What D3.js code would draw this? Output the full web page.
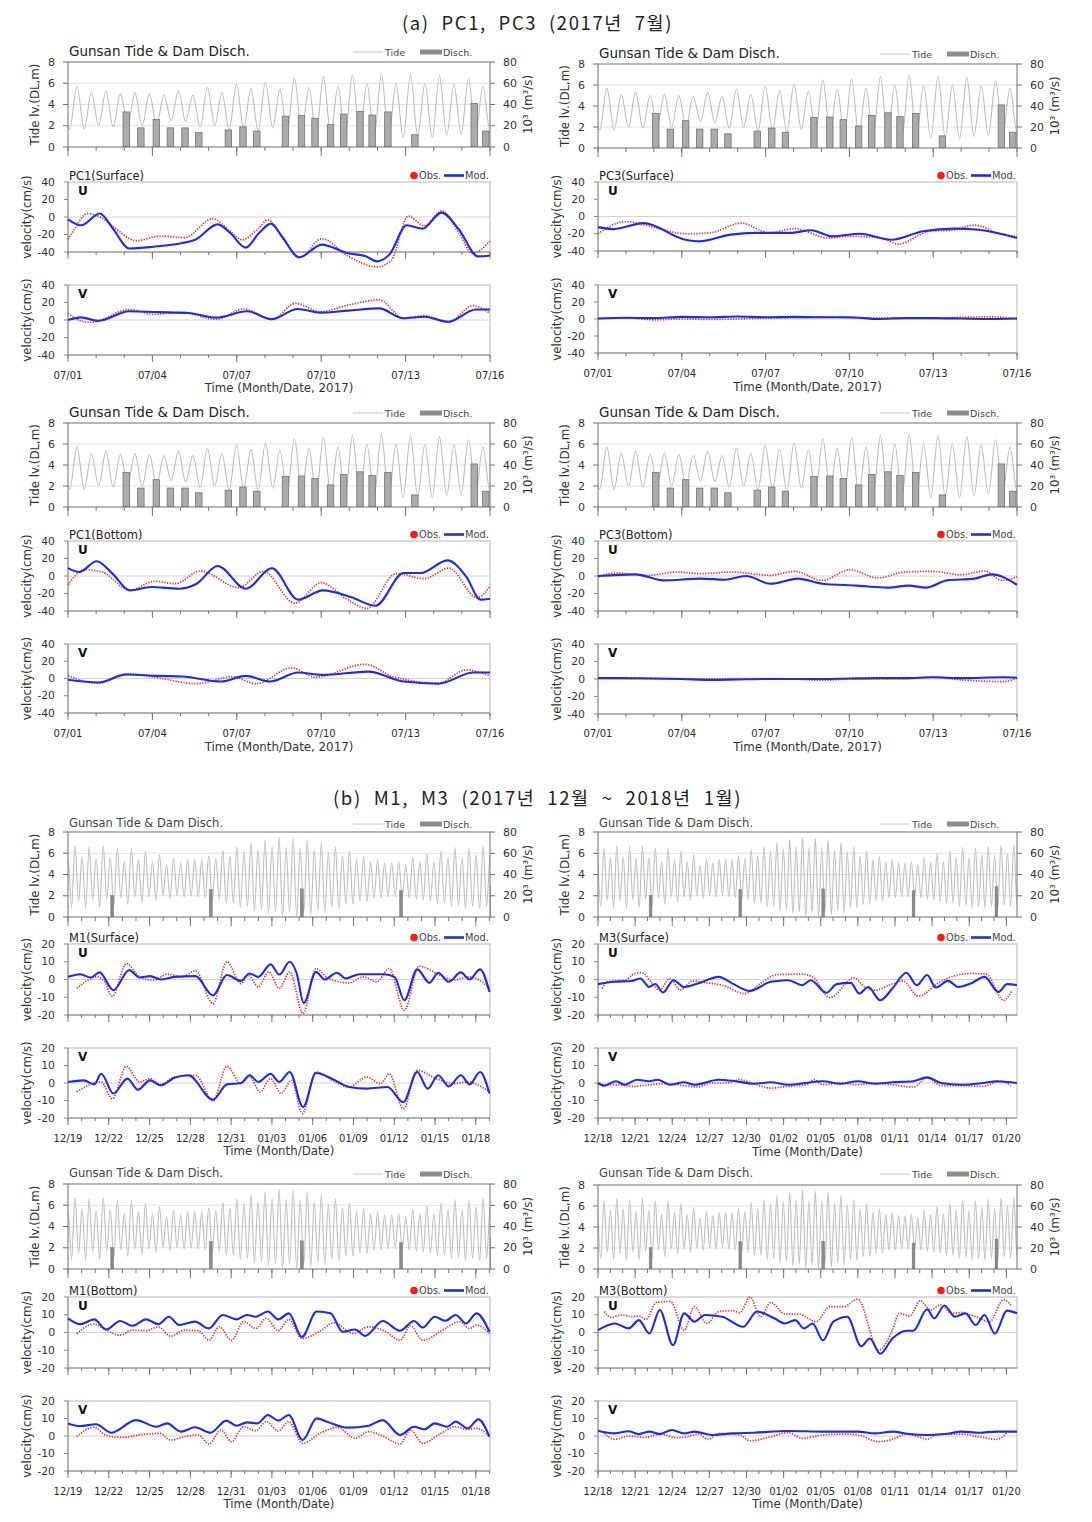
<!DOCTYPE html>
<html><head><meta charset="utf-8">
<script src="https://cdn.jsdelivr.net/npm/d3@7"></script>
<style>body{margin:0;background:#fff}svg{display:block}</style>
</head><body><svg id="c" width="1092" height="1522"></svg>
<script>
// ================= DATA =================
// Gunsan tide: alternating high / low water levels (m, DL)
const tideFirstHighA = "2017-06-30T19:15", tidePeriodA = 12.37;
const tideHighA = [5.5,5.7,5.1,5.3,5.0,5.1,5.0,4.9,5.3,4.9,5.6,5.1,5.9,5.5,6.1,5.4,6.5,5.6,6.6,5.7,6.8,6.0,6.9,6.0,6.8,6.0,6.7,5.9,6.4,5.7,5.5];
const tideLowA  = [1.7,1.7,2.0,1.9,2.1,2.0,2.1,2.5,2.4,1.9,2.0,1.6,1.7,1.5,1.8,1.4,1.5,1.2,1.2,1.0,1.0,1.0,0.9,0.9,1.0,0.9,1.1,1.2,1.3,1.4,1.5];
const tideFirstHighB = "2017-12-17T23:14", tidePeriodB = 12.42;
const tideHighB = [5.7,6.5,5.6,6.7,5.7,6.6,5.5,6.7,5.6,6.5,5.2,6.5,5.4,6.2,5.2,5.85,4.9,5.5,5.1,5.4,5.4,5.4,5.75,5.5,6.3,5.75,6.6,6.2,7.0,6.4,7.3,6.6,7.5,6.5,7.4,6.5,7.3,6.3,7.0,6.1,6.6,5.75,6.2,5.4,5.7,5.2,5.4,5.1,5.1,5.2,4.9,5.6,5.2,5.95,5.2,6.2,5.6,6.55,5.6,6.5,5.85,6.65,5.8,6.8,6.0,6.8,6.0];
const tideLowB  = [1.0,1.6,0.9,1.5,0.85,1.6,0.9,1.7,1.0,1.8,1.2,1.9,1.4,1.9,1.6,2.0,1.8,2.0,1.9,2.0,1.9,1.8,1.6,1.6,1.3,1.3,0.9,1.0,0.6,0.7,0.3,0.5,0.1,0.4,0.05,0.4,0.2,0.6,0.4,0.9,0.8,1.2,1.2,1.5,1.5,1.8,1.8,1.9,1.9,1.9,1.8,1.7,1.6,1.5,1.3,1.3,1.0,1.1,0.8,1.0,0.8,1.0,0.9,1.1,1.0,1.2,1.1];
// Dam discharge (10^3 m3/s); days after reference date
const dischRefA = "2017-07-01T00:00";
const dischDayA = [2.07,2.59,3.14,3.64,4.16,4.65,5.70,6.22,6.71,7.73,8.30,8.78,9.33,9.80,10.38,10.81,11.37,12.33,14.44,14.85];
const dischValA = [33,18,26,18,18,13.5,16,19,15,29,29.5,27,21,31,33.5,30,33,11.5,41,15];
const dischRefB = "2017-12-18T00:00";
const dischDayB = [4.25,11.5,18.2,25.5,32.2];
const dischValB = [20.5,26,26.5,24.7,28.5];
// Tick labels
const tickLabelsA  = ["07/01","07/04","07/07","07/10","07/13","07/16"];
const tickLabelsM1 = ["12/19","12/22","12/25","12/28","12/31","01/03","01/06","01/09","01/12","01/15","01/18"];
const tickLabelsM3 = ["12/18","12/21","12/24","12/27","12/30","01/02","01/05","01/08","01/11","01/14","01/17","01/20"];
const velTicksA = [-40,-20,0,20,40], velTicksB = [-20,-10,0,10,20];
const tideTicks = [0,2,4,6,8], dischTicks = [0,20,40,60,80];
// Velocity series: [days after panel start, cm/s]
const pc1sUobs = [[0,-25.5],[0.15,-18],[0.7,4],[1.2,-1],[1.57,-10],[2.43,-27],[3.29,-21.7],[4.15,-23.6],[5.14,-1.9],[5.76,-16],[6.19,-26],[6.74,-14],[7.11,-3.4],[7.73,-29],[8.22,-46.5],[9.02,-24.8],[9.95,-44.6],[10.99,-57],[11.49,-49.5],[12.1,1],[12.66,-10],[13.28,7],[13.89,-18],[14.38,-41.5],[15,-27.5]];
const pc1sUmod = [[0,-2.7],[0.46,-9.5],[1.13,4],[1.57,-12],[2.18,-36],[3.04,-34],[4.03,-30],[4.52,-26],[5.32,-8.4],[5.76,-18],[6.31,-35],[6.8,-18],[7.21,-7.6],[7.6,-22],[8.22,-46],[9.02,-31.6],[9.95,-41.5],[10.56,-44.6],[10.99,-50.7],[11.43,-42.7],[12.04,-9.5],[12.6,-13.3],[13.28,5],[13.89,-14],[14.57,-45],[15,-44]];
const pc1sVobs = [[0,7.6],[0.46,-1],[0.83,-2.7],[2.18,12],[3.04,6.5],[4.03,8.8],[5.26,0.8],[6.25,12.6],[7.24,0.8],[8.1,19],[8.96,9.5],[9.95,17],[11.06,23],[11.92,2],[12.66,5],[13.52,-2.7],[14.38,16.4],[15,7.6]];
const pc1sVmod = [[0,0],[0.46,3],[1.07,-1],[2.18,10],[3.17,9],[4.28,8],[5.26,2.7],[6.37,10],[7.24,1],[8.16,12.6],[8.96,8.4],[9.95,10.7],[11.06,13.3],[11.92,2],[12.66,3.8],[13.52,-2],[14.5,12],[15,12]];
const pc3sUobs = [[0,-20],[1.0,-5.8],[1.88,-11.5],[3.13,-20],[4.0,-19],[5.13,-7.7],[6.13,-19],[7.03,-14],[8.25,-25],[9.0,-23],[10.13,-25],[10.75,-32],[11.88,-17],[12.63,-16],[13.5,-10],[14.38,-20],[15,-23]];
const pc3sUmod = [[0,-12.3],[0.56,-14.6],[1.63,-7.7],[3.13,-27],[3.63,-28.8],[4.75,-21],[5.63,-19],[6.88,-19],[7.63,-16],[8.38,-23],[9.38,-20],[10.5,-27],[11.63,-17],[12.75,-14],[13.63,-15.4],[15,-25]];
const pc3sVobs = [[0,0.5],[1,1.5],[2,-1],[3,0],[4,-0.5],[5,0],[6,1],[7,1.5],[8,2.5],[9,1.5],[10,1],[11,1],[12,1],[13,2],[14,2.5],[15,0.5]];
const pc3sVmod = [[0,0.5],[1,1.5],[2,1],[3,2.5],[4,2],[5,3],[6,2],[7,2.5],[8,2],[9,2],[10,0],[11,1],[12,1],[13,0.5],[14,0],[15,0.5]];
const pc1bUobs = [[0,-10],[0.59,7.2],[1.21,4.6],[2.2,-16.4],[3.08,-6],[3.82,-8.8],[4.7,5.7],[6.07,-13.3],[6.94,5.3],[8.06,-31],[9.0,-7.6],[9.93,-26.7],[10.61,-37],[11.67,2.7],[12.67,-3],[13.54,9],[14.54,-24.8],[15,-11.8]];
const pc1bUmod = [[0,9],[0.4,4.6],[1.02,16.8],[1.58,2.7],[2.2,-16.4],[2.95,-12.6],[3.95,-14.5],[4.57,-8.8],[5.32,11.4],[6.32,-14.5],[7.25,8.8],[8.18,-27],[9.06,-16.4],[10.05,-24],[10.93,-34],[11.93,3.4],[12.55,3.4],[13.48,17.9],[14.16,-1],[14.66,-27],[15,-26]];
const pc1bVobs = [[0,3],[1.08,-5.4],[2.08,5.4],[3.2,0.8],[4.57,-6],[5.82,2],[6.69,-6],[7.94,12.3],[8.81,1.5],[10.55,16.5],[11.55,2.3],[13.17,-5.4],[14.16,10],[15,3]];
const pc1bVmod = [[0,-1.5],[1.08,-4.6],[2.08,4.6],[3.2,3],[4.07,2.3],[5.44,-3.5],[6.32,3],[7.19,-3.5],[8.18,6.9],[9.06,4.2],[10.68,8],[11.93,-3.5],[13.17,-6],[14.41,6.9],[15,6.9]];
const pc3bUobs = [[0,-1],[0.59,3.4],[1.83,0.8],[2.82,4.6],[3.69,2.7],[4.81,4.6],[6.17,0.8],[7.04,5.3],[8.03,-5],[9.02,7.2],[10.01,-2.3],[11.0,4.6],[11.99,5.3],[12.98,1.5],[13.85,5.7],[14.47,-5],[15,-1]];
const pc3bUmod = [[0,0],[1.34,1.9],[2.33,-5],[3.69,-3],[4.56,-4.2],[5.3,0],[6.17,-8.8],[7.16,-3],[8.03,-8.8],[9.27,-11],[10.38,-13.3],[11.12,-11],[11.74,-13.3],[12.49,-5],[13.48,-3],[14.1,1.9],[15,-10]];
const pc3bVobs = [[0,1],[1.5,0.5],[3,0.5],[4,0],[5,0.5],[6,0.5],[7,0],[8,-1.5],[9,0],[10,0.5],[11,0.5],[12,2],[13,-1],[14.5,-3],[15,1]];
const pc3bVmod = [[0,1],[1.5,0.8],[3,0],[4,-1],[5,-0.5],[6,0],[7,0],[8,0],[9,0.5],[10,1],[11,1],[12,2],[13,1],[14.5,2],[15,1.5]];
const m1sUobs = [[0.64,-5],[2.18,1.5],[2.7,-1.3],[3.26,-9.4],[4.29,9],[5.27,1.5],[6.29,-0.4],[7.32,3],[8.35,1.5],[9.38,4.9],[10.66,-13.6],[11.69,10],[12.72,-2.3],[13.23,2.5],[14.0,-4.2],[14.77,4.3],[15.54,-5],[16.31,4.3],[17.29,-19.2],[18.24,6.2],[19.14,0.6],[20.68,-1.9],[21.71,1.5],[22.73,-1.3],[23.63,6.2],[24.74,-17.4],[25.82,7.5],[27.36,2.5],[28.38,-0.4],[29.41,1.5],[30.44,-1.3],[31,-5]];
const m1sUmod = [[0,1.5],[0.9,3],[1.67,1.1],[2.31,4],[3.34,-6],[4.5,5.3],[5.27,1.1],[6.04,1.9],[6.81,0],[7.83,1.5],[9.38,1.9],[10.66,-9],[11.69,2.5],[12.72,-0.8],[13.36,3.4],[14.0,1.5],[14.9,8.5],[15.54,2.8],[16.31,10],[16.82,3.4],[17.34,-13.2],[18.24,4.3],[18.88,0],[19.78,3.8],[20.42,0.6],[21.45,3],[23.25,3],[24.02,1.5],[24.74,-11.7],[25.69,5.7],[26.59,-1.9],[27.23,3.8],[28.0,-1.3],[28.9,4],[29.54,0],[30.31,5.7],[31,-7]];
const m1sVobs = [[0.64,-5.1],[2.44,0.6],[3.26,-9],[4.29,9.5],[5.27,0.6],[6.04,2.5],[6.81,-0.8],[7.83,3.4],[9.38,4.4],[10.66,-10.3],[11.69,9.5],[12.72,-0.4],[13.36,3.4],[14.13,-5.1],[14.9,2.5],[15.67,-6],[16.44,1.5],[17.24,-17.5],[18.24,6.3],[19.65,0.6],[20.68,-2.3],[21.96,3.4],[22.99,-0.4],[23.63,5.3],[24.66,-14.7],[25.69,7.2],[27.1,2.5],[28.38,-0.4],[29.41,0.6],[30.44,-2.3],[31,-5.1]];
const m1sVmod = [[0,0.6],[1.16,1.5],[1.93,-0.8],[2.44,5.3],[3.34,-6],[4.37,2.5],[5.14,-3.8],[6.04,1.5],[6.81,-1.3],[7.83,3],[8.86,4.4],[10.66,-9.5],[11.69,-0.8],[12.72,0],[13.36,4.4],[14.0,0.6],[14.9,5.3],[15.54,0.6],[16.31,6.3],[17.29,-13.7],[18.24,5.7],[19.65,1.5],[20.68,-2.3],[21.96,-3.2],[23.5,-2.3],[24.66,-10.9],[25.69,6.3],[26.46,-3.2],[27.23,4.4],[28.0,-1.9],[28.9,4.4],[29.54,-0.8],[30.31,6.3],[31,-6]];
const m3sUobs = [[0.34,-5.1],[0.76,-1.3],[2.16,-0.4],[3.0,3.4],[3.57,3.8],[4.27,-1.3],[4.97,-6],[5.81,0.6],[6.66,-6],[7.64,-0.8],[8.9,-1.9],[10.03,-3.2],[11.85,-7.9],[13.12,-2.3],[14.52,2.8],[16.49,3],[17.33,1.5],[18.74,-10.2],[20.7,0.9],[21.54,-4.2],[22.39,-6],[23.51,-3.2],[24.63,-0.8],[25.9,-9.4],[27.44,-2.3],[28.71,1.9],[30.25,3.4],[31.38,3],[32.78,-11.7],[33.48,-6]];
const m3sUmod = [[0,-2.6],[1.32,-1.3],[2.72,-0.8],[3.43,0.6],[4.13,-4.2],[4.63,-2.5],[5.25,-7.3],[6.1,-0.4],[6.94,-4.2],[8.06,-2.3],[9.75,1.5],[10.87,-2.3],[12.28,-6.4],[13.96,-1.3],[15.37,-0.4],[16.49,-3.2],[17.19,-0.4],[18.46,-7.5],[19.3,-2.6],[20.42,-1.9],[21.12,-7.9],[21.83,-4.2],[22.81,-11.7],[23.79,-5.1],[24.92,3.8],[25.76,-3.2],[26.6,2.5],[27.3,-4.5],[28.29,-0.8],[29.13,-4.2],[30.11,-2.3],[31.24,1.5],[32.36,-7],[33.06,-2.6],[33.86,-3.2]];
const m3sVobs = [[0.34,-1.9],[1.32,-1],[3.0,-1.9],[4.13,-1],[5.53,-0.4],[6.94,-1.5],[8.06,-2.3],[9.18,0],[10.45,0],[11.43,1.9],[12.56,-0.4],[13.96,-2.9],[15.37,-1.9],[16.77,-1],[17.47,1.9],[18.17,-1],[19.58,0],[20.98,-1],[22.39,0],[23.79,-1],[25.48,-2.3],[26.6,2.9],[27.72,-1.5],[29.41,-1.5],[31.1,-1.9],[32.5,1],[33.34,-1.5]];
const m3sVmod = [[0,0],[0.48,-1.5],[1.46,1],[2.16,-1],[3.15,1.9],[4.13,1],[4.83,1.9],[5.81,-1],[6.94,0.4],[7.78,-1],[9.75,1.9],[11.15,1],[12.56,-0.4],[13.96,0.4],[15.37,-1],[16.77,0],[18.17,1],[19.58,-0.4],[20.98,1],[22.39,-0.4],[23.79,0.4],[25.48,1],[26.6,3.2],[27.72,0],[29.41,-1],[31.1,0],[32.22,1],[33.86,0]];
const m1bUobs = [[0.64,-0.6],[1.92,4.7],[2.81,1.3],[3.84,-1.5],[4.73,1.3],[5.75,1],[6.65,3.2],[7.54,-2.1],[8.57,1.3],[9.59,1],[10.36,-4.4],[11.13,3.2],[12.02,-4.4],[12.92,6.1],[13.81,2.3],[14.58,8],[15.47,1],[16.24,7.4],[17.21,-3.4],[18.54,0.8],[19.57,5.5],[20.97,-0.6],[22.12,3.2],[23.4,0.4],[24.42,-4.4],[25.19,3.8],[26.09,-4.4],[27.75,2.3],[28.77,6.1],[29.54,2.3],[30.05,4.2],[31,-0.6]];
const m1bUmod = [[0,8],[0.9,4.7],[1.92,7.4],[2.81,1.7],[3.84,6.5],[4.73,3.8],[5.75,7.4],[6.65,4.7],[7.42,8.9],[8.18,4.2],[9.34,6.1],[10.36,2.3],[11.38,9.9],[12.4,7.4],[13.17,9.9],[13.81,8.9],[14.7,11.8],[15.47,7.4],[16.24,10.8],[17.21,-2.5],[18.29,11.8],[19.31,10.8],[20.2,0.4],[21.1,1.7],[21.87,-1.9],[23.15,6.5],[24.42,1],[25.45,6.5],[26.09,2.8],[26.98,8.9],[27.75,6.6],[28.52,9.9],[29.28,5.1],[30.05,10.8],[31,0.4]];
const m1bVobs = [[0.64,-0.4],[1.92,5],[2.81,0.4],[3.96,-0.8],[5.75,1.1],[6.78,1.5],[7.54,-2.3],[8.57,-0.4],[9.59,0.6],[10.36,-4.6],[11.25,3.4],[12.02,-3.2],[12.92,5.3],[13.81,3],[14.58,8.2],[15.47,3],[16.24,8.2],[17.26,-4.2],[18.54,1.5],[19.82,5],[21.1,-1.3],[22.12,2.5],[23.15,0],[24.42,-4.6],[25.19,3.4],[26.09,-4.2],[27.24,0.6],[28.52,5.3],[29.28,3.8],[30.05,4.4],[31,-0.4]];
const m1bVmod = [[0,7.2],[0.9,5.7],[2.05,6.7],[3.2,1.9],[4.99,9.1],[6.52,5.3],[7.29,7.2],[8.31,2.5],[9.34,5],[10.49,1.9],[11.64,8.8],[12.4,5.9],[13.17,7.8],[13.94,7.2],[14.7,12],[15.47,8.8],[16.24,12],[17.26,-2.3],[18.29,10.1],[19.05,8.2],[20.59,4.8],[22.12,5.9],[23.15,9.1],[24.42,0.6],[25.45,5.3],[26.21,3.8],[26.98,7.2],[27.88,5.3],[28.52,8.2],[29.41,4.4],[30.18,9.5],[31,-0.4]];
const m3bUobs = [[0.51,11.8],[1.07,8.5],[1.91,9.9],[2.75,8.9],[3.31,9.3],[3.87,7.4],[4.71,16.9],[5.84,17.5],[6.96,1.3],[7.8,14.6],[8.78,5.1],[9.76,11.8],[10.89,12.3],[11.45,11.2],[12.29,19.9],[13.13,8.9],[13.97,16.9],[15.1,10.4],[16.22,10.4],[17.62,6.1],[18.74,14.6],[19.87,14.6],[20.99,18.8],[22.67,-10],[23.79,1.3],[24.35,10.8],[25.2,9.3],[26.04,18],[26.88,12.7],[27.72,15.6],[28.56,10.8],[29.4,11.2],[30.53,8.9],[31.65,6.1],[32.77,18.4],[33.47,14.6]];
const m3bUmod = [[0,1.3],[1.35,5.1],[2.47,2.3],[3.31,7],[4.15,-0.6],[4.99,12.7],[6.06,-7.2],[6.96,10.8],[7.8,6.1],[8.64,9.9],[10.04,8.9],[11.73,3.2],[12.85,11.8],[14.25,8],[15.1,5.1],[15.94,7],[16.64,2.3],[17.34,5.1],[18.18,-4.4],[19.02,6.1],[20.15,8.9],[21.27,-7.8],[21.97,-3.4],[22.81,-12],[23.79,-3.4],[24.92,1],[25.48,1],[26.6,13.1],[27.16,8],[28.0,15.2],[28.84,8.9],[29.69,10.8],[30.53,4.2],[31.23,9.9],[32.07,-0.6],[33.05,12.3],[33.86,10.8]];
const m3bVobs = [[0.51,1.5],[1.35,-1.9],[2.47,0],[3.87,-0.8],[4.99,1.1],[6.4,-1],[7.24,-0.4],[8.08,1.1],[8.92,-1.9],[9.76,1.5],[11.45,0.6],[12.29,-2.7],[13.97,-0.4],[15.38,1.9],[16.5,-1.3],[18.18,0.6],[19.87,1.1],[20.99,0.6],[22.67,-3.2],[23.79,-1.9],[24.92,1.1],[26.04,-0.8],[26.6,-1.9],[27.44,1.1],[29.4,1.1],[30.81,-0.4],[32.21,-1.9],[33.05,1.9]];
const m3bVmod = [[0,3],[1.35,1.5],[2.47,2.7],[3.31,1.1],[4.15,2.5],[4.99,1.1],[5.98,3.4],[6.96,1.5],[7.8,2.5],[9.2,0.6],[10.89,1.5],[12.57,1.9],[15.38,2.9],[18.18,2.5],[20.99,2.5],[22.39,1.5],[23.79,2.5],[25.2,1.1],[26.6,0.6],[28.0,1.1],[29.4,2.5],[30.81,1.9],[32.21,2.5],[33.86,2.5]];

// ================= LAYOUT / STYLE =================
const FONT = "'DejaVu Sans', Verdana, sans-serif";
const C = {grid:"#e3e3e3", frame:"#6e6e6e", velFrame:"#b5b5b5", zero:"#d3d3d3", tide:"#bdbdbd",
  bar:"#ababab", barStroke:"#707070", obs:"#ee2a2a", mod:"#1f2ce0", text:"#333"};
const DAY = 864e5, HOUR = 36e5;
const LX0 = 68, LX1 = 490, RX0 = 598, RX1 = 1017;

const groups = [
 {col:0,x0:LX0,x1:LX1,start:"2017-07-01T00:00",end:"2017-07-16T00:00",ticks:tickLabelsA,yr:"A",name:"PC1(Surface)",
  tideY:[62,147],uY:[182,252],vY:[285,355],titleY:51,ticksY:375,axisTitleY:388,u:[pc1sUobs,pc1sUmod],v:[pc1sVobs,pc1sVmod]},
 {col:1,x0:RX0,x1:RX1,start:"2017-07-01T00:00",end:"2017-07-16T00:00",ticks:tickLabelsA,yr:"A",name:"PC3(Surface)",
  tideY:[64,148],uY:[182,251],vY:[285,353],titleY:53,ticksY:373,axisTitleY:387,u:[pc3sUobs,pc3sUmod],v:[pc3sVobs,pc3sVmod]},
 {col:0,x0:LX0,x1:LX1,start:"2017-07-01T00:00",end:"2017-07-16T00:00",ticks:tickLabelsA,yr:"A",name:"PC1(Bottom)",
  tideY:[423,507],uY:[541,611],vY:[644,713],titleY:412,ticksY:733,axisTitleY:747,u:[pc1bUobs,pc1bUmod],v:[pc1bVobs,pc1bVmod]},
 {col:1,x0:RX0,x1:RX1,start:"2017-07-01T00:00",end:"2017-07-16T00:00",ticks:tickLabelsA,yr:"A",name:"PC3(Bottom)",
  tideY:[423,507],uY:[541,611],vY:[644,714],titleY:412,ticksY:733,axisTitleY:747,u:[pc3bUobs,pc3bUmod],v:[pc3bVobs,pc3bVmod]},
 {col:0,x0:LX0,x1:LX1,start:"2017-12-19T00:00",end:"2018-01-19T01:00",ticks:tickLabelsM1,yr:"B",name:"M1(Surface)",
  tideY:[832,917],uY:[944,1015],vY:[1048,1118],titleY:823,ticksY:1138,axisTitleY:1151,u:[m1sUobs,m1sUmod],v:[m1sVobs,m1sVmod]},
 {col:1,x0:RX0,x1:RX1,start:"2017-12-18T00:00",end:"2018-01-20T20:40",ticks:tickLabelsM3,yr:"B",name:"M3(Surface)",
  tideY:[832,917],uY:[944,1015],vY:[1048,1118],titleY:823,ticksY:1138,axisTitleY:1152,u:[m3sUobs,m3sUmod],v:[m3sVobs,m3sVmod]},
 {col:0,x0:LX0,x1:LX1,start:"2017-12-19T00:00",end:"2018-01-19T01:00",ticks:tickLabelsM1,yr:"B",name:"M1(Bottom)",
  tideY:[1184,1269],uY:[1297,1368],vY:[1401,1471],titleY:1173,ticksY:1491,axisTitleY:1504,u:[m1bUobs,m1bUmod],v:[m1bVobs,m1bVmod]},
 {col:1,x0:RX0,x1:RX1,start:"2017-12-18T00:00",end:"2018-01-20T20:40",ticks:tickLabelsM3,yr:"B",name:"M3(Bottom)",
  tideY:[1185,1269],uY:[1297,1368],vY:[1401,1471],titleY:1173,ticksY:1491,axisTitleY:1504,u:[m3bUobs,m3bUmod],v:[m3bVobs,m3bVmod]}
];

// ================= HELPERS =================
const svg = d3.select("#c").attr("font-family", FONT);
const defs = svg.append("defs");
let clipN = 0;
function clip(x,y,w,h){ const id="cl"+(clipN++); defs.append("clipPath").attr("id",id).append("rect").attr("x",x).attr("y",y).attr("width",w).attr("height",h); return "url(#"+id+")"; }
function txt(x,y,s,o={}){ return svg.append("text").attr("x",x).attr("y",y).attr("font-size",o.size||10)
  .attr("text-anchor",o.anchor||"start").attr("dominant-baseline","central").attr("fill",o.fill||C.text)
  .attr("font-weight",o.weight||"normal").attr("font-family",o.family||FONT).text(s); }
function vtxt(x,y,s,size){ return svg.append("text").attr("transform",`translate(${x},${y}) rotate(-90)`)
  .attr("text-anchor","middle").attr("dominant-baseline","central").attr("font-size",size).attr("fill",C.text).text(s); }
function hline(x1,x2,y,c,w){ svg.append("line").attr("x1",x1).attr("x2",x2).attr("y1",y).attr("y2",y).attr("stroke",c).attr("stroke-width",w||1); }
function vline(x,y1,y2,c,w){ svg.append("line").attr("x1",x).attr("x2",x).attr("y1",y1).attr("y2",y2).attr("stroke",c).attr("stroke-width",w||1); }
function parseLabel(s, yr){ const [m,d]=s.split("/").map(Number); const y = yr==="A" ? 2017 : (m===12?2017:2018); return new Date(y, m-1, d); }
function tidePts(highs, lows, first, per){ const t0=new Date(first).getTime(), p=[];
  highs.forEach((h,i)=>{ p.push([new Date(t0+i*per*HOUR),h]); if(i<lows.length) p.push([new Date(t0+(i+0.5)*per*HOUR),lows[i]]); }); return p; }
const tideData = { A: tidePts(tideHighA,tideLowA,tideFirstHighA,tidePeriodA), B: tidePts(tideHighB,tideLowB,tideFirstHighB,tidePeriodB) };
const dischData = {
  A: dischDayA.map((d,i)=>[new Date(new Date(dischRefA).getTime()+d*DAY), dischValA[i]]),
  B: dischDayB.map((d,i)=>[new Date(new Date(dischRefB).getTime()+d*DAY), dischValB[i]]) };

function xTicks(x, g, y, minorLen, majorLen, days, majors){
  days.forEach(d=>{ const xx=x(d); if(xx<g.x0-0.5||xx>g.x1+0.5) return; vline(xx,y,y+minorLen,"#777",1); });
  majors.forEach(d=>{ const xx=x(d); if(xx<g.x0-0.5||xx>g.x1+0.5) return; vline(xx,y,y+majorLen,"#777",1); });
}

// ================= DRAW =================
function drawGroup(g){
  const t0 = new Date(g.start), t1 = new Date(g.end);
  const x = d3.scaleTime().domain([t0,t1]).range([g.x0,g.x1]);
  const days = d3.timeDay.range(d3.timeDay.floor(t0), new Date(t1.getTime()+1));
  const majors = g.ticks.map(s=>parseLabel(s,g.yr));
  const big = g.yr==="A";

  // ---- Tide / discharge panel ----
  const [tt,tb] = g.tideY;
  const yT = d3.scaleLinear().domain([0,8]).range([tb,tt]);
  const yD = d3.scaleLinear().domain([0,80]).range([tb,tt]);
  [2,4,6].forEach(v=>hline(g.x0,g.x1,yT(v),C.grid,1));
  const line = d3.line().x(d=>x(d[0])).y(d=>yT(d[1])).curve(d3.curveMonotoneX);
  svg.append("path").datum(tideData[g.yr]).attr("d",line).attr("fill","none").attr("stroke",C.tide)
     .attr("stroke-width",1.1).attr("clip-path",clip(g.x0,tt,g.x1-g.x0,tb-tt));
  const cp = clip(g.x0,tt-2,g.x1-g.x0+1,tb-tt+2);
  svg.append("g").attr("clip-path",cp).selectAll("rect").data(dischData[g.yr]).join("rect")
     .attr("x",d=>x(new Date(d[0].getTime()-2.75*HOUR)))
     .attr("width",d=>x(new Date(d[0].getTime()+2.75*HOUR))-x(new Date(d[0].getTime()-2.75*HOUR)))
     .attr("y",d=>yD(d[1])).attr("height",d=>tb-yD(d[1]))
     .attr("fill",big?C.bar:"#8a8a8a").attr("stroke",big?C.barStroke:"#777").attr("stroke-width",big?0.8:0.4);
  svg.append("rect").attr("x",g.x0).attr("y",tt).attr("width",g.x1-g.x0).attr("height",tb-tt)
     .attr("fill","none").attr("stroke",C.frame).attr("stroke-width",1);
  tideTicks.forEach(v=>{ hline(g.x0-5,g.x0,yT(v),C.frame,1); txt(g.x0-13,yT(v),v,{size:11,anchor:"end"}); });
  dischTicks.forEach(v=>{ hline(g.x1,g.x1+5,yD(v),C.frame,1); txt(g.x1+13,yD(v),v,{size:11}); });
  xTicks(x,g,tb,4,9,days,majors);
  vtxt(g.x0-33,(tt+tb)/2,"Tide lv.(DL,m)",11.8);
  vtxt(g.x1+38,(tt+tb)/2,"10³ (m³/s)",11.8);
  txt(g.x0+1,g.titleY,"Gunsan Tide & Dam Disch.",{size:big?13.5:11.5,fill:big?"#222":"#444"});
  // legend
  const ly = g.titleY+1;
  hline(g.x1-137,g.x1-107,ly,"#c8c8c8",1);
  txt(g.x1-105,ly,"Tide",{size:9.5,fill:"#444"});
  svg.append("rect").attr("x",g.x1-70).attr("y",ly-2.5).attr("width",22).attr("height",5).attr("fill","#8c8c8c");
  txt(g.x1-47,ly,"Disch.",{size:9.5,fill:"#444"});

  // ---- Velocity panels ----
  const vmax = big?40:20, vt = big?velTicksA:velTicksB;
  [["U",g.uY,g.u],["V",g.vY,g.v]].forEach(([lab,[pt,pb],ser])=>{
    const y = d3.scaleLinear().domain([-vmax,vmax]).range([pb,pt]);
    svg.append("rect").attr("x",g.x0).attr("y",pt).attr("width",g.x1-g.x0).attr("height",pb-pt)
       .attr("fill","none").attr("stroke",C.velFrame).attr("stroke-width",1);
    hline(g.x0,g.x1,y(0),C.zero,1);
    hline(g.x0,g.x1,pb,"#8a8a8a",1);
    vline(g.x0,pt,pb,"#8a8a8a",1);
    vt.forEach(v=>{ hline(g.x0-4,g.x0,y(v),"#8a8a8a",1); txt(g.x0-13,y(v),v,{size:10.8,anchor:"end"}); });
    xTicks(x,g,pb,3,7,days,majors);
    vtxt(g.x0-41,(pt+pb)/2,"velocity(cm/s)",11.8);
    txt(g.x0+10,pt+9,lab,{size:12,weight:"bold",fill:"#111"});
    const ln = d3.line().x(d=>x(new Date(t0.getTime()+d[0]*DAY))).y(d=>y(d[1])).curve(d3.curveMonotoneX);
    svg.append("path").datum(ser[0]).attr("d",ln).attr("fill","none").attr("stroke",C.obs)
       .attr("stroke-width",1.7).attr("stroke-dasharray","1.3 1.4");
    svg.append("path").datum(ser[1]).attr("d",ln).attr("fill","none").attr("stroke",C.mod)
       .attr("stroke-width",2.1).attr("stroke-linejoin","round");
  });
  const [ut] = g.uY;
  txt(g.x0+1,ut-6.5,g.name,{size:11.5,fill:"#222"});
  const vy = ut-6.5;
  svg.append("circle").attr("cx",g.x1-76).attr("cy",vy).attr("r",3.8).attr("fill","#ff1a1a");
  txt(g.x1-71,vy,"Obs.",{size:9.8,fill:"#444"});
  hline(g.x1-46,g.x1-26,vy,C.mod,2.6);
  txt(g.x1-25,vy,"Mod.",{size:9.8,fill:"#444"});

  // x labels
  majors.forEach((d,i)=>txt(x(d),g.ticksY,g.ticks[i],{size:10,anchor:"middle",fill:"#2a2a2a"}));
  txt((g.x0+g.x1)/2,g.axisTitleY, big?"Time (Month/Date, 2017)":"Time (Month/Date)",{size:11.8,anchor:"middle"});
}
groups.forEach(drawGroup);

// main titles: slightly widened letters, word gaps fill to the original width
const KR = "'Noto Sans CJK KR', 'Noto Sans', sans-serif";
function mainTitle(y, s, targetW){
  const t = txt(537.5,y,s,{size:18.5,anchor:"middle",family:KR,fill:"#222"}).attr("letter-spacing",1.6);
  const w = t.node().getComputedTextLength();
  const nSp = s.split(" ").length-1;
  t.attr("word-spacing", Math.max(0,(targetW-w)/nSp));
}
mainTitle(22,"(a) PC1, PC3 (2017년 7월)",271);
mainTitle(797,"(b) M1, M3 (2017년 12월 ~ 2018년 1월)",409);
</script></body></html>
